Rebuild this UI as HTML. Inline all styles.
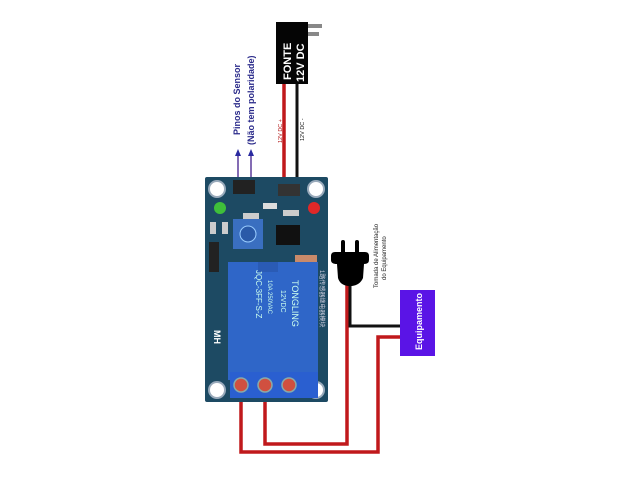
<!DOCTYPE html>
<html><head><style>html,body{margin:0;padding:0;background:#fff}svg{display:block}</style></head>
<body>
<svg width="640" height="480" viewBox="0 0 640 480" xmlns="http://www.w3.org/2000/svg" font-family="Liberation Sans, sans-serif">
<!-- wires bottom -->
<polyline points="241,395 241,452 378,452 378,337 402,337" fill="none" stroke="#c0191c" stroke-width="3.5"/>
<polyline points="265,390 265,444 347,444 347,285" fill="none" stroke="#c0191c" stroke-width="3.5"/>
<polyline points="350,285 350,326 402,326" fill="none" stroke="#111" stroke-width="3"/>
<!-- power wires -->
<line x1="284" y1="82" x2="284" y2="192" stroke="#c0191c" stroke-width="3.5"/>
<line x1="297" y1="82" x2="297" y2="192" stroke="#111" stroke-width="3"/>
<!-- fonte -->
<rect x="276" y="22" width="32" height="62" fill="#050505"/>
<rect x="308" y="24" width="14" height="4" fill="#888"/>
<rect x="308" y="32" width="11" height="4" fill="#888"/>
<text transform="translate(291,80) rotate(-90)" fill="#fff" font-size="11" font-weight="bold">FONTE</text>
<text transform="translate(304,82) rotate(-90)" fill="#fff" font-size="11" font-weight="bold">12V DC</text>
<text transform="translate(282,143) rotate(-90)" fill="#b01010" font-size="5.5">12V DC +</text>
<text transform="translate(304,141) rotate(-90)" fill="#111" font-size="5.5">12V DC -</text>
<!-- sensor labels -->
<text transform="translate(240,135) rotate(-90)" fill="#2a2a8a" font-size="9" font-weight="bold">Pinos do Sensor</text>
<text transform="translate(254,145) rotate(-90)" fill="#2a2a8a" font-size="9" font-weight="bold">(Não tem polaridade)</text>
<line x1="238" y1="180" x2="238" y2="154" stroke="#5a3a9a" stroke-width="1.5"/>
<line x1="251" y1="180" x2="251" y2="154" stroke="#5a3a9a" stroke-width="1.5"/>
<polygon points="235,156 241,156 238,149" fill="#2a2aa0"/>
<polygon points="248,156 254,156 251,149" fill="#2a2aa0"/>
<!-- board -->
<rect x="205" y="177" width="123" height="225" fill="#1d4a63" rx="2"/>
<circle cx="217" cy="189" r="8" fill="#fff" stroke="#9ab" stroke-width="2"/>
<circle cx="316" cy="189" r="8" fill="#fff" stroke="#9ab" stroke-width="2"/>
<circle cx="217" cy="390" r="8" fill="#fff" stroke="#9ab" stroke-width="2"/>
<circle cx="316" cy="390" r="8" fill="#fff" stroke="#9ab" stroke-width="2"/>
<rect x="233" y="180" width="22" height="14" fill="#222"/>
<rect x="278" y="184" width="22" height="12" fill="#333"/>
<circle cx="220" cy="208" r="6" fill="#3fbf3a"/>
<circle cx="314" cy="208" r="6" fill="#e02828"/>
<rect x="263" y="203" width="14" height="6" fill="#ddd"/>
<rect x="243" y="213" width="16" height="6" fill="#ccc"/>
<rect x="283" y="210" width="16" height="6" fill="#ccc"/>
<rect x="210" y="222" width="6" height="12" fill="#ccc"/>
<rect x="222" y="222" width="6" height="12" fill="#ccc"/>
<rect x="233" y="219" width="30" height="30" fill="#3a6fc0"/>
<circle cx="248" cy="234" r="8" fill="#2a5aa8" stroke="#9cf" stroke-width="1"/>
<rect x="276" y="225" width="24" height="20" fill="#111"/>
<rect x="209" y="242" width="10" height="30" fill="#222"/>
<rect x="295" y="255" width="22" height="7" fill="#c98a6a"/>
<!-- relay -->
<rect x="228" y="262" width="90" height="118" fill="#2f66c8"/>
<rect x="258" y="262" width="20" height="10" fill="#2a5bb5"/>
<text transform="translate(292,280) rotate(90)" fill="#cfe" font-size="9">TONGLING</text>
<text transform="translate(281,290) rotate(90)" fill="#cfe" font-size="7">12VDC</text>
<text transform="translate(256,270) rotate(90)" fill="#cfe" font-size="8">JQC-3FF-S-Z</text>
<text transform="translate(268,280) rotate(90)" fill="#cfe" font-size="6">10A 250VAC</text>
<text transform="translate(320,270) rotate(90)" fill="#ccd" font-size="6">1路传感器继电器模块</text>
<text transform="translate(214,330) rotate(90)" fill="#fff" font-size="9" font-weight="bold">MH</text>
<!-- terminal -->
<rect x="230" y="372" width="88" height="26" fill="#2a5fd0"/>
<circle cx="241" cy="385" r="7" fill="#d05040" stroke="#8aa" stroke-width="1.5"/>
<circle cx="265" cy="385" r="7" fill="#d05040" stroke="#8aa" stroke-width="1.5"/>
<circle cx="289" cy="385" r="7" fill="#d05040" stroke="#8aa" stroke-width="1.5"/>
<!-- plug -->
<rect x="341" y="240" width="4" height="14" fill="#000" rx="2"/>
<rect x="355" y="240" width="4" height="14" fill="#000" rx="2"/>
<path d="M331,256 Q331,252 335,252 L365,252 Q369,252 369,256 L369,260 Q369,264 364,264 L363,278 Q360,285 352,286 L348,286 Q340,285 338,278 L337,264 Q331,264 331,260 Z" fill="#000"/>
<text transform="translate(378,288) rotate(-90)" fill="#222" font-size="6">Tomada de Alimentação</text>
<text transform="translate(386,280) rotate(-90)" fill="#222" font-size="6">do Equipamento</text>
<!-- equipamento -->
<rect x="400" y="290" width="35" height="66" fill="#5a14e6"/>
<text transform="translate(422,350) rotate(-90)" fill="#fff" font-size="9" font-weight="bold">Equipamento</text>
</svg>
</body></html>
